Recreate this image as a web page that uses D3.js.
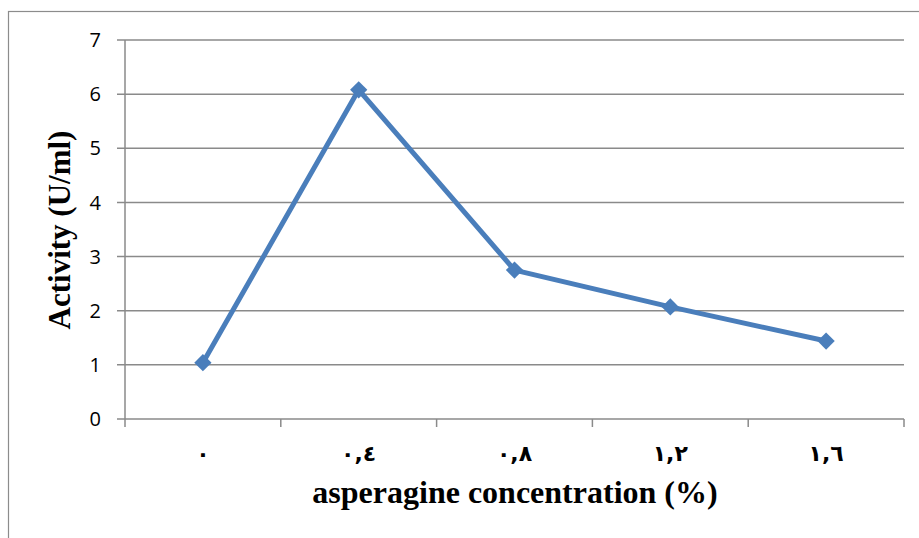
<!DOCTYPE html>
<html>
<head>
<meta charset="utf-8">
<script src="https://cdn.jsdelivr.net/npm/d3@7"></script>
<style>
  body { margin: 0; background: #fff; }
  svg { display: block; }
</style>
</head>
<body>
<svg id="chart" width="919" height="538"></svg>
<script>
'use strict';

// категории по оси X (арабские цифры, как в оригинале)
const categories = ['٠', '٠,٤', '٠,٨', '١,٢', '١,٦'];
// активность, U/ml
const activity = [1.04, 6.08, 2.75, 2.07, 1.44];
// деления оси Y
const yTicks = [0, 1, 2, 3, 4, 5, 6, 7];

const svg = d3.select('#chart');

// рамка диаграммы
svg.append('rect')
  .attr('x', 8.5).attr('y', 11.5)
  .attr('width', 920).attr('height', 540)
  .attr('fill', 'none')
  .attr('stroke', '#8c8c8c')
  .attr('stroke-width', 1.2);

// границы области построения
const plotLeft = 125, plotRight = 904, plotTop = 40, plotBottom = 419;

const x = d3.scaleBand().domain(categories).range([plotLeft, plotRight]);
const y = d3.scaleLinear().domain([0, 7]).range([plotBottom, plotTop]);

// сетка
svg.append('g')
  .selectAll('line')
  .data(yTicks)
  .enter()
  .append('line')
  .attr('x1', plotLeft - 8)
  .attr('x2', plotRight)
  .attr('y1', d => y(d))
  .attr('y2', d => y(d))
  .attr('stroke', '#8a8a8a')
  .attr('stroke-width', 1.5);

// ось Y
svg.append('line')
  .attr('x1', plotLeft).attr('x2', plotLeft)
  .attr('y1', plotTop).attr('y2', plotBottom + 8)
  .attr('stroke', '#8a8a8a').attr('stroke-width', 1.5);

// деления оси X
const bounds = categories.map(c => x(c)).concat([plotRight]);
svg.append('g')
  .selectAll('line')
  .data(bounds.slice(1))
  .enter()
  .append('line')
  .attr('x1', d => d).attr('x2', d => d)
  .attr('y1', plotBottom).attr('y2', plotBottom + 8)
  .attr('stroke', '#8a8a8a').attr('stroke-width', 1.5);

// подписи оси Y
svg.append('g')
  .selectAll('text')
  .data(yTicks)
  .enter()
  .append('text')
  .attr('x', 101)
  .attr('y', d => y(d))
  .attr('dy', '0.36em')
  .attr('text-anchor', 'end')
  .attr('font-family', 'Open Sans, Liberation Sans, sans-serif')
  .attr('font-size', 20)
  .attr('fill', '#000')
  .text(d => d);

// подписи оси X
svg.append('g')
  .selectAll('text')
  .data(categories)
  .enter()
  .append('text')
  .attr('x', d => x(d) + x.bandwidth() / 2)
  .attr('y', 461)
  .attr('text-anchor', 'middle')
  .attr('font-family', 'DejaVu Sans, sans-serif')
  .attr('font-weight', 'bold')
  .attr('font-size', 22)
  .attr('letter-spacing', 3)
  .attr('fill', '#000')
  .text(d => d);

// линия данных
const points = categories.map((c, i) => ({c: c, v: activity[i]}));
const line = d3.line()
  .x(d => x(d.c) + x.bandwidth() / 2)
  .y(d => y(d.v));

svg.append('path')
  .datum(points)
  .attr('d', line)
  .attr('fill', 'none')
  .attr('stroke', '#4a7ebb')
  .attr('stroke-width', 5)
  .attr('stroke-linejoin', 'round');

// маркеры-ромбы
svg.append('g')
  .selectAll('path')
  .data(points)
  .enter()
  .append('path')
  .attr('transform', d => `translate(${x(d.c) + x.bandwidth() / 2},${y(d.v)})`)
  .attr('d', d3.symbol().type(d3.symbolDiamond2).size(190))
  .attr('fill', '#4a7ebb');

// заголовки осей
svg.append('text')
  .attr('transform', 'translate(70,230) rotate(-90)')
  .attr('text-anchor', 'middle')
  .attr('font-family', 'Liberation Serif, Times New Roman, serif')
  .attr('font-weight', 'bold')
  .attr('font-size', 31)
  .text('Activity (U/ml)');

svg.append('text')
  .attr('x', 515)
  .attr('y', 503)
  .attr('text-anchor', 'middle')
  .attr('font-family', 'Liberation Serif, Times New Roman, serif')
  .attr('font-weight', 'bold')
  .attr('font-size', 32)
  .text('asperagine concentration (%)');
</script>
</body>
</html>
